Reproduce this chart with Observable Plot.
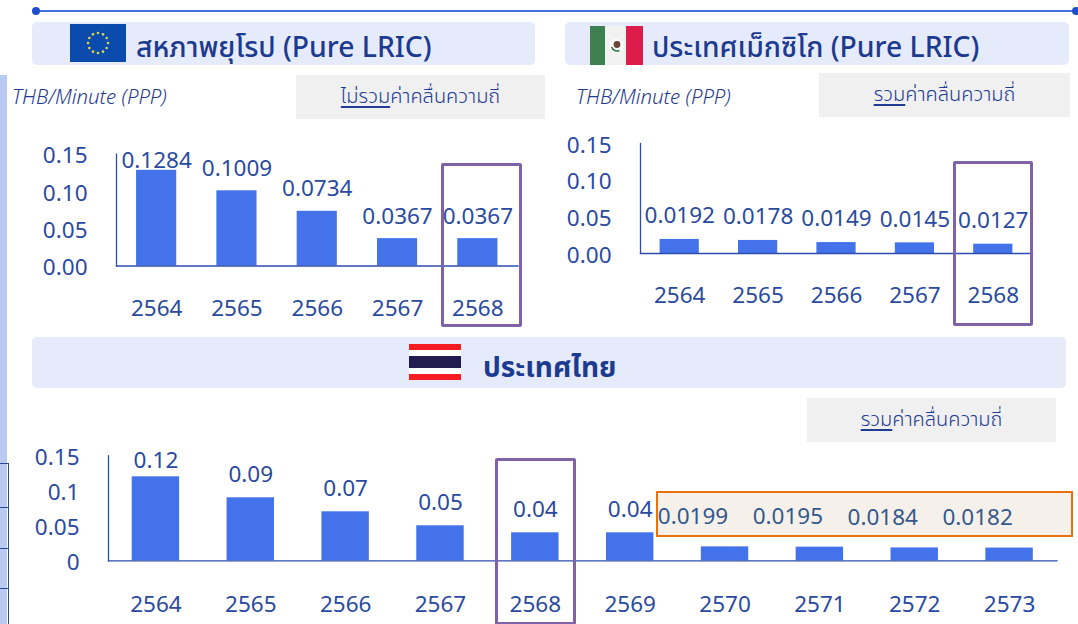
<!DOCTYPE html>
<html lang="th"><head><meta charset="utf-8">
<script src="https://cdn.jsdelivr.net/npm/d3@7"></script>
<script src="https://cdn.jsdelivr.net/npm/@observablehq/plot@0.6"></script>
<style>
html,body{margin:0;padding:0;background:#fff;width:1078px;height:624px;overflow:hidden}
body{font-family:"Noto Sans","Noto Sans Thai","Open Sans",sans-serif;color:#1f3b94;position:relative}
.abs{position:absolute}
.panel{position:absolute;background:#e6ebfb;border-radius:5px}
.hd{position:absolute;font-size:28.3px;font-weight:500;color:#1c3a8f;white-space:nowrap;line-height:1}
.gray{position:absolute;background:#f0f0f0;display:flex;align-items:center;justify-content:center;font-size:20px;font-weight:300;color:#1f3b94}
.gray u{text-underline-offset:3px}
.unit{position:absolute;font-style:italic;font-weight:300;font-size:20.4px;color:#1f3b94;white-space:nowrap}
.box{position:absolute;box-sizing:border-box;border:3px solid #7f62a8;border-radius:2px}
svg.plot{position:absolute;background:transparent;overflow:visible}
</style></head><body>
<script>
const euYears = [2564, 2565, 2566, 2567, 2568];
const euValues = [0.1284, 0.1009, 0.0734, 0.0367, 0.0367];
const mxYears = [2564, 2565, 2566, 2567, 2568];
const mxValues = [0.0192, 0.0178, 0.0149, 0.0145, 0.0127];
const thYears = [2564, 2565, 2566, 2567, 2568, 2569, 2570, 2571, 2572, 2573];
const thValues = [0.12, 0.09, 0.07, 0.05, 0.04, 0.04, 0.0199, 0.0195, 0.0184, 0.0182];
const yTicks = [0, 0.05, 0.1, 0.15];
const INK = "#2a4aa0", BAR = "#4472ea", AXIS = "#2c4cb0", FONT = '"Noto Sans","Open Sans",sans-serif';
const FS = 22.5;

function add(html, cls, st){const e=document.createElement("div");e.className=cls;Object.assign(e.style,st);if(html)e.innerHTML=html;document.body.append(e);return e;}
const px=(x,y,w,h)=>({left:x+"px",top:y+"px",width:w+"px",height:h+"px"});

// background decoration
add("", "abs", {...px(0,75,7,549),background:"#b9caf5"});
for (const y of [463,507,548,588]) add("", "abs", {...px(0,y,9,1),background:"#2c4a96"});
add("", "abs", {...px(8,463,1,161),background:"#2c4a96"});
add("", "abs", {...px(35,10,1043,1.5),background:"#4372e0"});
add("", "abs", {...px(32,7,8,8),background:"#1f4fc8",borderRadius:"50%"});
add("", "abs", {...px(1072,7,8,8),background:"#1f4fc8",borderRadius:"50%"});

add("", "panel", px(32,22,503,43));
add("", "panel", px(565,22,504,43));
add("", "panel", px(32,337,1034,51));

// flags
const stars = d3.range(12).map(i=>{const a=i*Math.PI/6;return `<circle cx="${28+10*Math.sin(a)}" cy="${19-10*Math.cos(a)}" r="1.3" fill="#dcd84a"/>`}).join("");
add(`<svg width="56" height="38" style="display:block"><rect width="56" height="38" fill="#0a4bad"/>${stars}</svg>`, "abs", px(70,24,56,38));
add(`<svg width="53" height="39" style="display:block"><rect width="15" height="39" fill="#3f8050"/><rect x="15" width="22" height="39" fill="#f2f2f2"/><rect x="36" width="17" height="39" fill="#dc1c4a"/><circle cx="26" cy="20" r="7" fill="#fff"/><circle cx="27" cy="18.5" r="3.4" fill="#6a4438"/><path d="M21.5 21a6 6 0 0 0 8 3.5" fill="none" stroke="#2f7a45" stroke-width="1.6"/></svg>`, "abs", px(590,26,53,39));
add(`<svg width="52" height="36" style="display:block"><rect width="52" height="36" fill="#f51c24"/><rect y="6" width="52" height="24" fill="#fff"/><rect y="12" width="52" height="12" fill="#221c50"/></svg>`, "abs", px(409,344,52,36));

add("สหภาพยุโรป (Pure LRIC)", "hd", {left:"136px",top:"32px"});
add("ประเทศเม็กซิโก (Pure LRIC)", "hd", {left:"652px",top:"32px"});
add("<b>ประเทศไทย</b>", "hd", {left:"483px",top:"352px",fontSize:"28px"});

add("THB/Minute (PPP)", "unit", {left:"12px",top:"82px"});
add("THB/Minute (PPP)", "unit", {left:"576px",top:"82px"});
add("<u>ไม่รวม</u>ค่าคลื่นความถี่", "gray", px(296,75,249,44));
add("<u>รวม</u>ค่าคลื่นความถี่", "gray", px(819,73,251,44));
add("<u>รวม</u>ค่าคลื่นความถี่", "gray", px(807,398,249,44));

// highlighted forecast band, behind the Thai chart
add("", "abs", {...px(656,491,417,46),boxSizing:"border-box",background:"#f5f0ea",border:"2px solid #e8720c"});

function chart({years, values, yFmt, left, top, width, height, ml, mr, mt, mb, xPad, marks}) {
  const rows = years.map((y,i)=>({year:y, value:values[i]}));
  const p = Plot.plot({
    width, height, marginLeft:ml, marginRight:mr, marginTop:mt, marginBottom:mb,
    style:{fontFamily:FONT, background:"transparent", overflow:"visible"},
    className:"plot",
    x:{type:"band", domain:years, paddingInner:0.5, paddingOuter:0.25, round:false, label:null},
    y:{domain:[0,0.15], label:null},
    marks:[
      Plot.barY(rows,{x:"year", y:"value", fill:BAR}),
      Plot.frame({anchor:"left", stroke:AXIS, strokeWidth:1.3}),
      Plot.frame({anchor:"bottom", stroke:AXIS, strokeWidth:1.3}),
      Plot.axisX({tickSize:0, tickPadding:xPad, fontSize:FS, fill:INK, label:null, tickFormat:d=>String(d)}),
      Plot.axisY({ticks:yTicks, tickFormat:yFmt, tickSize:0, tickPadding:29, dy:2, fontSize:FS, fill:INK, label:null}),
      ...marks(rows)
    ]
  });
  Object.assign(p.style,{position:"absolute",left:left+"px",top:top+"px"});
  document.body.append(p);
}
const label = (rows, fmt, dy, extra={}) => Plot.text(rows,{x:"year", y:"value", text:d=>fmt(d.value), dy, fontSize:FS, fill:INK, ...extra});

const f2 = d3.format(".2f"), f4 = d3.format(".4f");
chart({years:euYears, values:euValues, yFmt:f2, left:0, top:130, width:560, height:200, ml:116, mr:42.5, mt:23.7, mb:64.5, xPad:34,
  marks:rows=>[label(rows.slice(0,1),f4,-10), label(rows.slice(1),f4,-22)]});
chart({years:mxYears, values:mxValues, yFmt:f2, left:560, top:130, width:518, height:200, ml:80, mr:46, mt:13, mb:77, xPad:34,
  marks:rows=>[label(rows,f4,-23.5)]});
chart({years:thYears, values:thValues, yFmt:d=>String(d), left:0, top:440, width:1078, height:184, ml:108, mr:21.5, mt:15.3, mb:63.7, xPad:35,
  marks:rows=>[
    label(rows.slice(0,1),f2,-16),
    label(rows.slice(1,6),f2,-23),
    label(rows.slice(6),f4,-30,{dx:-32, fill:"#34588c"})
  ]});

// purple focus frames on year 2568
add("", "box", px(441,163,81,164));
add("", "box", px(953,161,80,165));
add("", "box", px(495,458,81,167));
</script>
</body></html>
